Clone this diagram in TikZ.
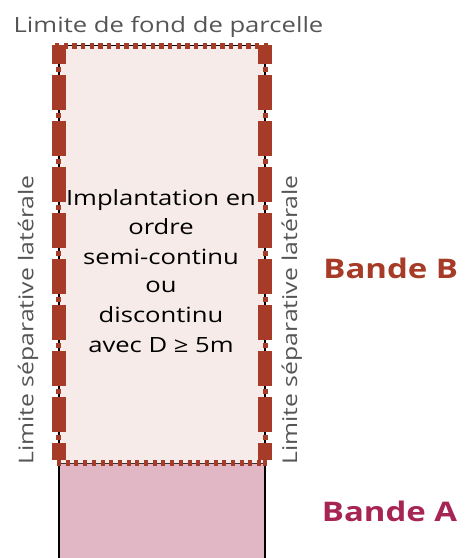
\documentclass[tikz,border=0pt]{standalone}
\usepackage{fontspec}
\setmainfont[FakeStretch=1.22]{Open Sans}
\definecolor{segred}{RGB}{166,59,39}
\definecolor{bandAtxt}{RGB}{166,37,84}
\definecolor{pinkA}{RGB}{225,183,197}
\definecolor{lightB}{RGB}{246,235,233}
\definecolor{graytxt}{RGB}{85,85,85}
\tikzset{
  seg/.style={fill=segred,draw=none},
  dotsq/.style={fill=segred,draw=none},
  edge/.style={draw=black,line width=1.6pt},
  lbl/.style={text=graytxt,font=\fontsize{21}{24}\selectfont,inner sep=0pt},
  vlbl/.style={text=graytxt,font=\fontsize{20.3}{24}\selectfont,inner sep=0pt},
  ctr/.style={text=black,font=\fontsize{21}{24}\selectfont,inner sep=0pt,anchor=base},
  band/.style={font=\fontsize{27}{32}\selectfont\bfseries,inner sep=0pt,anchor=base}
}
\begin{document}
\begin{tikzpicture}[x=1pt,y=-1pt]
\useasboundingbox (0,0) rectangle (472,558);
% fills
\fill[lightB] (59,45.5) rectangle (265,463);
\fill[pinkA] (59,463) rectangle (265,560);
% black boundary lines
\draw[edge] (59,45.5) -- (59,560);
\draw[edge] (265,45.5) -- (265,560);
\draw[draw=black,line width=1.4pt] (58,45.5) -- (266,45.5);
\draw[draw=black!80,line width=1pt] (59,463) -- (265,463);
% red segments on lateral limits
\foreach \xc in {58.5,265}{
  \fill[seg] (\xc-7,45) rectangle (\xc+7,64);
  \foreach \k in {0,...,7}{
    \fill[seg] (\xc-7,75+46*\k) rectangle (\xc+7,110+46*\k);
  }
  \fill[seg] (\xc-7,443) rectangle (\xc+7,460);
  \foreach \k in {0,...,8}{
    \fill[dotsq] (\xc-2.5,67+46*\k) rectangle (\xc+2.5,72+46*\k);
  }
}
% dotted squares on top limit
\foreach \k in {0,...,24}{
  \fill[dotsq] (57+8.7*\k-2.2,43) rectangle (57+8.7*\k+2.2,48.5);
}
% dotted squares on B/A limit
\foreach \k in {0,...,23}{
  \fill[dotsq] (59+8.7*\k-2,460.3) rectangle (59+8.7*\k+2,466.3);
}
\fill[dotsq] (262.8,460.3) rectangle (266.8,466.3);
% labels
\node[lbl,anchor=base] (top) at (168.5,32) {Limite de fond de parcelle};
\node[vlbl,anchor=base,rotate=90] (left) at (33.5,320) {Limite séparative latérale};
\node[vlbl,anchor=base,rotate=90] (right) at (297,320) {Limite séparative latérale};
\node[ctr] (c1) at (161,205) {Implantation en};
\node[ctr] (c2) at (161,234) {ordre};
\node[ctr] (c3) at (161,264) {semi-continu};
\node[ctr] (c4) at (161,292) {ou};
\node[ctr] (c5) at (161,322) {discontinu};
\node[ctr] (c6) at (161,352) {avec D ≥ 5m};
\node[band,text=segred] (bB) at (390.8,278.3) {Bande B};
\node[band,text=bandAtxt] (bA) at (389.5,521) {Bande A};
\end{tikzpicture}
\end{document}
